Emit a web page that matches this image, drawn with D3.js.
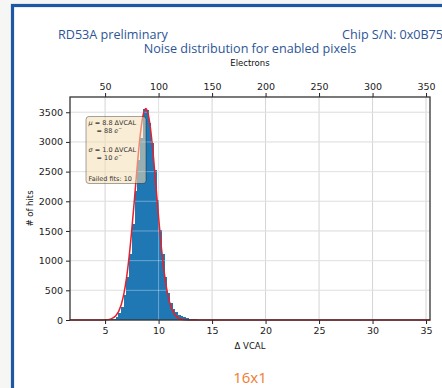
<!DOCTYPE html>
<html lang="en">
<head>
<meta charset="UTF-8">
<title>Noise distribution</title>
<script src="https://cdn.jsdelivr.net/npm/d3@7"></script>
<style>
  html, body { margin: 0; padding: 0; background: #f6f6f4; }
  svg { display: block; }
  .tick text { font-family: "DejaVu Sans", sans-serif; font-size: 9.5px; fill: #222; }
  .tick line { stroke: #222; }
  .domain { display: none; }
</style>
</head>
<body>
<svg id="chart" width="442" height="388"></svg>
<script>
// histogram of noise (delta VCAL), bins start at 5.0 with width 0.25
const binStart = 5.0;
const binWidth = 0.25;
const counts = [3, 6, 12, 25, 55, 110, 220, 420, 720, 1120, 1620, 2180, 2700, 3060,
  3560, 3545, 3320, 2980, 2520, 2020, 1520, 1110, 730, 450, 290, 190, 130, 90,
  65, 45, 32, 22, 15, 10, 7, 4, 3, 2];

// gaussian fit curve
const fitX = [1.7, 4.5, 5.0, 5.5, 6.0, 6.5, 6.75, 7.0, 7.25, 7.5, 7.75, 8.0, 8.25, 8.5, 8.8,
  9.0, 9.25, 9.5, 9.75, 10.0, 10.25, 10.5, 10.75, 11.0, 11.5, 12.0, 12.5, 13.0, 35.4];
const fitY = [0, 0, 3, 15, 70, 253, 435, 705, 1072, 1530, 2047, 2585, 3060, 3403, 3565,
  3490, 3217, 2786, 2265, 1734, 1242, 839, 531, 316, 93, 21, 4, 0, 0];

const xTicks = [5, 10, 15, 20, 25, 30, 35];
const eTicks = [50, 100, 150, 200, 250, 300, 350];
const yTicks = [0, 500, 1000, 1500, 2000, 2500, 3000, 3500];

const fitText = [
  { t: "μ", rest: " = 8.8 ΔVCAL", indent: 0, dy: 0 },
  { t: "", rest: "= 88 ", e: true, indent: 8, dy: 8 },
  { t: "σ", rest: " = 1.0 ΔVCAL", indent: 0, dy: 27 },
  { t: "", rest: "= 10 ", e: true, indent: 8, dy: 35 },
  { t: "", rest: "Failed fits: 10", indent: 0, dy: 56 }
];

const svg = d3.select('#chart');

// slide frame
svg.append('rect').attr('x', 11).attr('y', 4).attr('width', 440).attr('height', 400)
  .attr('fill', '#fff');
svg.append('rect').attr('x', 12.5).attr('y', 5.5).attr('width', 440).attr('height', 400)
  .attr('fill', 'none').attr('stroke', '#1d58a4').attr('stroke-width', 3.2);

// header texts
svg.append('text').attr('x', 58).attr('y', 38.5)
  .attr('font-family', 'Open Sans, sans-serif').attr('font-size', '12.6px')
  .attr('fill', '#2c5596').text('RD53A preliminary');
svg.append('text').attr('x', 443).attr('y', 38.5).attr('text-anchor', 'end')
  .attr('font-family', 'Open Sans, sans-serif').attr('font-size', '12.6px')
  .attr('fill', '#2c5596').text('Chip S/N: 0x0B75');
svg.append('text').attr('x', 250).attr('y', 52.5).attr('text-anchor', 'middle')
  .attr('font-family', 'Open Sans, sans-serif').attr('font-size', '12.6px')
  .attr('fill', '#2c5596').text('Noise distribution for enabled pixels');

const pLeft = 70, pRight = 430, pTop = 97, pBottom = 320;

const x = d3.scaleLinear().domain([1.72, 35.37]).range([pLeft, pRight]);
const xe = d3.scaleLinear().domain([17.2, 353.7]).range([pLeft, pRight]);
const y = d3.scaleLinear().domain([0, 3757]).range([pBottom, pTop]);

// grid
const grid = svg.append('g');
xTicks.forEach(v => {
  grid.append('line').attr('x1', x(v)).attr('x2', x(v)).attr('y1', pTop).attr('y2', pBottom)
    .attr('stroke', '#d4d4d4').attr('stroke-width', 1);
});
yTicks.forEach(v => {
  grid.append('line').attr('x1', pLeft).attr('x2', pRight).attr('y1', y(v)).attr('y2', y(v))
    .attr('stroke', '#d4d4d4').attr('stroke-width', 1);
});

// histogram bars
svg.append('g').attr('shape-rendering', 'crispEdges')
  .selectAll('rect').data(counts).join('rect')
  .attr('x', (d, i) => x(binStart + i * binWidth))
  .attr('width', (d, i) => x(binStart + (i + 1) * binWidth) - x(binStart + i * binWidth) + 0.8)
  .attr('y', d => y(d))
  .attr('height', d => y(0) - y(d))
  .attr('fill', '#1f77b4');

// light grid lines show through the bars in the reference
svg.append('g').selectAll('line').data(yTicks.slice(1)).join('line')
  .attr('x1', pLeft).attr('x2', pRight).attr('y1', d => y(d)).attr('y2', d => y(d))
  .attr('stroke', '#fff').attr('stroke-opacity', 0.35).attr('stroke-width', 1);
svg.append('line').attr('x1', x(10)).attr('x2', x(10)).attr('y1', pTop).attr('y2', pBottom)
  .attr('stroke', '#fff').attr('stroke-opacity', 0.35).attr('stroke-width', 1);

// fit curve
const line = d3.line().x(d => x(d[0])).y(d => y(d[1])).curve(d3.curveMonotoneX);
svg.append('path').datum(fitX.map((v, i) => [v, fitY[i]]))
  .attr('d', line).attr('fill', 'none').attr('stroke', '#e5212c').attr('stroke-width', 1.5);

// fit info box
const bx = 86, by = 116.5;
svg.append('rect').attr('x', bx).attr('y', by).attr('width', 60).attr('height', 67).attr('rx', 3)
  .attr('fill', '#f5deb3').attr('fill-opacity', 0.55)
  .attr('stroke', '#000').attr('stroke-opacity', 0.35).attr('stroke-width', 1);
const box = svg.append('g').attr('font-family', 'DejaVu Sans, sans-serif')
  .attr('font-size', '6.5px').attr('fill', '#333');
fitText.forEach(l => {
  const t = box.append('text').attr('x', bx + 2.5 + l.indent).attr('y', by + 8 + l.dy);
  if (l.t) t.append('tspan').attr('font-style', 'italic').text(l.t);
  t.append('tspan').text(l.rest);
  if (l.e) {
    t.append('tspan').attr('font-style', 'italic').text('e');
    t.append('tspan').attr('font-size', '4.5px').attr('dy', -2.5).text('−');
  }
});

// axes
svg.append('g').attr('transform', `translate(${pLeft},0)`)
  .call(d3.axisLeft(y).tickValues(yTicks).tickFormat(d3.format('d')).tickSize(4).tickPadding(3));
svg.append('g').attr('transform', `translate(0,${pBottom})`)
  .call(d3.axisBottom(x).tickValues(xTicks).tickSize(4).tickPadding(3));
svg.append('g').attr('transform', `translate(0,${pTop})`)
  .call(d3.axisTop(xe).tickValues(eTicks).tickSize(4).tickPadding(3));

// spines
svg.append('rect').attr('x', pLeft).attr('y', pTop).attr('width', pRight - pLeft).attr('height', pBottom - pTop)
  .attr('fill', 'none').attr('stroke', '#333').attr('stroke-width', 1.3);

// axis labels
svg.append('text').attr('x', 250).attr('y', 66).attr('text-anchor', 'middle')
  .attr('font-family', 'DejaVu Sans, sans-serif').attr('font-size', '8.5px').attr('fill', '#111')
  .text('Electrons');
svg.append('text').attr('x', 250).attr('y', 349).attr('text-anchor', 'middle')
  .attr('font-family', 'DejaVu Sans, sans-serif').attr('font-size', '8.5px').attr('fill', '#111')
  .text('Δ VCAL');
svg.append('text').attr('transform', `translate(33,${(pTop + pBottom) / 2}) rotate(-90)`)
  .attr('text-anchor', 'middle')
  .attr('font-family', 'DejaVu Sans, sans-serif').attr('font-size', '8.5px').attr('fill', '#111')
  .text('# of hits');

// configuration label
svg.append('text').attr('x', 250).attr('y', 383).attr('text-anchor', 'middle')
  .attr('font-family', 'Open Sans, sans-serif').attr('font-size', '15px').attr('fill', '#ed7d31')
  .text('16x1');
</script>
</body>
</html>
